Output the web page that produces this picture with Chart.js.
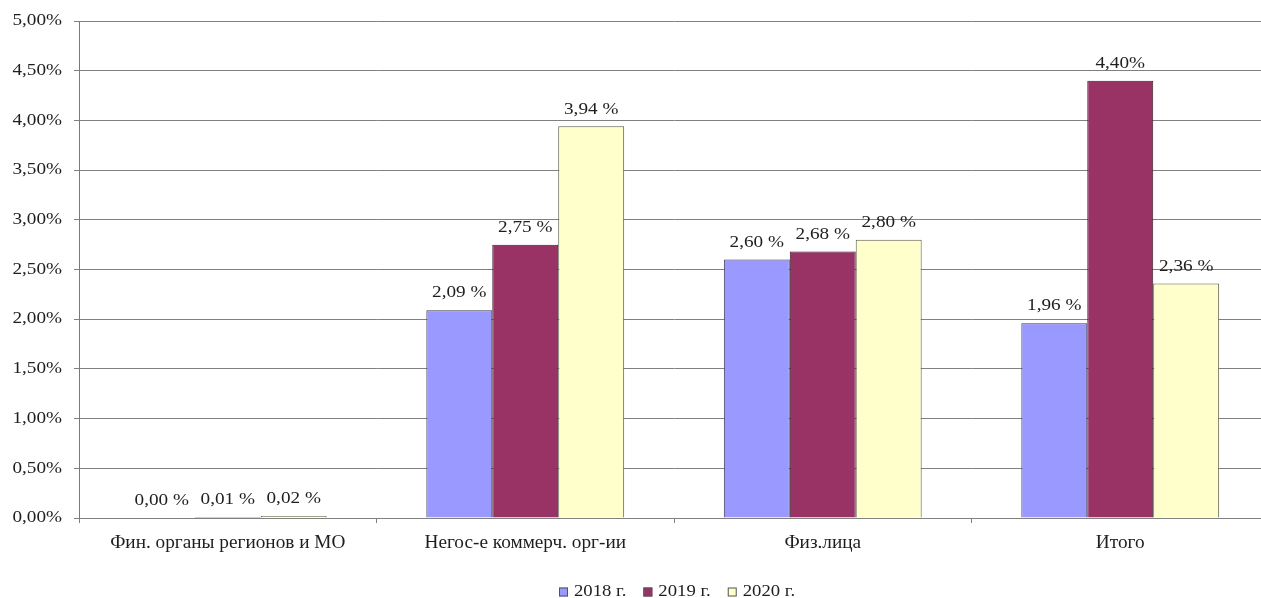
<!DOCTYPE html>
<html>
<head>
<meta charset="utf-8">
<script src="https://cdn.jsdelivr.net/npm/chart.js@4"></script>
<style>
  html, body { margin: 0; padding: 0; background: #ffffff; overflow: hidden; }
  /* the plot runs slightly past the right edge of the frame */
  #wrap { width: 1261px; height: 598px; overflow: hidden; }
</style>
</head>
<body>
<div id="wrap"><canvas id="chart" width="1269" height="598"></canvas></div>
<script>
// Categories and series (percent values)
const categories = ['Фин. органы регионов и МО', 'Негос-е коммерч. орг-ии', 'Физ.лица', 'Итого'];
const seriesNames = ['2018 г.', '2019 г.', '2020 г.'];
const values2018 = [0.00, 2.09, 2.60, 1.96];
const values2019 = [0.01, 2.75, 2.68, 4.40];
const values2020 = [0.02, 3.94, 2.80, 2.36];
// Value labels printed without a space before the percent sign: [series, category]
const tightLabels = [[1, 3]];
const yTicks = [0, 0.5, 1, 1.5, 2, 2.5, 3, 3.5, 4, 4.5, 5];

const fillColors = ['#9999ff', '#993366', '#ffffcc'];
const edgeColors = ['#3a3a5a', '#3a1a2a', '#5a5a4a'];
const FONT = '"Liberation Serif", "Times New Roman", serif';
const TEXT = '#1e1e1e';

function fmtValue(v, tight) {
  return v.toFixed(2).replace('.', ',') + (tight ? '%' : ' %');
}
function fmtTick(v) {
  return v.toFixed(2).replace('.', ',') + '%';
}

// Text drawn with a slight horizontal stretch (wide office-style lettering)
function drawText(ctx, text, x, y, size, stretch, align, color) {
  ctx.save();
  ctx.font = size + 'px ' + FONT;
  ctx.fillStyle = color || TEXT;
  ctx.textBaseline = 'middle';
  const w = ctx.measureText(text).width * stretch;
  let left = x;
  if (align === 'center') left = x - w / 2;
  else if (align === 'right') left = x - w;
  ctx.translate(left, y);
  ctx.scale(stretch, 1);
  ctx.textAlign = 'left';
  ctx.fillText(text, 0, 0);
  ctx.restore();
  return w;
}

const annotations = {
  id: 'annotations',
  afterDraw(chart) {
    const ctx = chart.ctx;
    const xs = chart.scales.x, ys = chart.scales.y;
    const area = chart.chartArea;

    // y tick labels
    yTicks.forEach(v => {
      drawText(ctx, fmtTick(v), 62, ys.getPixelForValue(v), 16, 1.2, 'right');
    });

    // category labels
    categories.forEach((c, i) => {
      drawText(ctx, c, xs.getPixelForTick(i), area.bottom + 25, 18, 1.07, 'center');
    });

    // value labels above bars
    chart.data.datasets.forEach((ds, di) => {
      const meta = chart.getDatasetMeta(di);
      meta.data.forEach((bar, i) => {
        const tight = tightLabels.some(t => t[0] === di && t[1] === i);
        drawText(ctx, fmtValue(ds.data[i], tight), bar.x, bar.y - 17, 16, 1.2, 'center');
      });
    });

    // legend
    const ly = area.bottom + 74;
    let lx = 559;
    chart.data.datasets.forEach((ds) => {
      ctx.save();
      ctx.fillStyle = ds.backgroundColor;
      ctx.strokeStyle = '#555555';
      ctx.lineWidth = 1;
      ctx.fillRect(lx, ly - 4.5, 9, 9);
      ctx.strokeRect(lx + 0.5, ly - 4, 8, 8);
      ctx.restore();
      const w = drawText(ctx, ds.label, lx + 15, ly, 16, 1.17, 'left');
      lx += 15 + w + 17;
    });
  }
};

new Chart(document.getElementById('chart'), {
  type: 'bar',
  data: {
    labels: categories,
    datasets: [values2018, values2019, values2020].map((d, i) => ({
      label: seriesNames[i],
      data: d,
      backgroundColor: fillColors[i],
      borderColor: edgeColors[i],
      borderWidth: 1,
      categoryPercentage: 0.665,
      barPercentage: 1.0
    }))
  },
  options: {
    responsive: false,
    animation: false,
    devicePixelRatio: 1,
    layout: { padding: { top: 21, right: 0, left: 0, bottom: 0 } },
    scales: {
      x: {
        grid: { display: true, drawOnChartArea: false, color: '#808080', tickLength: 5, offset: true },
        border: { color: '#808080', width: 1 },
        ticks: { color: 'rgba(0,0,0,0)', font: { family: FONT, size: 14 }, maxRotation: 0 },
        afterFit(scale) { scale.height = 80; }
      },
      y: {
        min: 0,
        max: 5,
        afterBuildTicks(scale) { scale.ticks = yTicks.map(v => ({ value: v })); },
        grid: { color: '#808080', lineWidth: 1, tickLength: 5 },
        border: { color: '#7a7a7a', width: 1 },
        ticks: { color: 'rgba(0,0,0,0)', font: { family: FONT, size: 13 }, callback: v => fmtTick(v) },
        afterFit(scale) { scale.width = 79; }
      }
    },
    plugins: {
      legend: { display: false },
      tooltip: { enabled: false }
    }
  },
  plugins: [annotations]
});
</script>
</body>
</html>
